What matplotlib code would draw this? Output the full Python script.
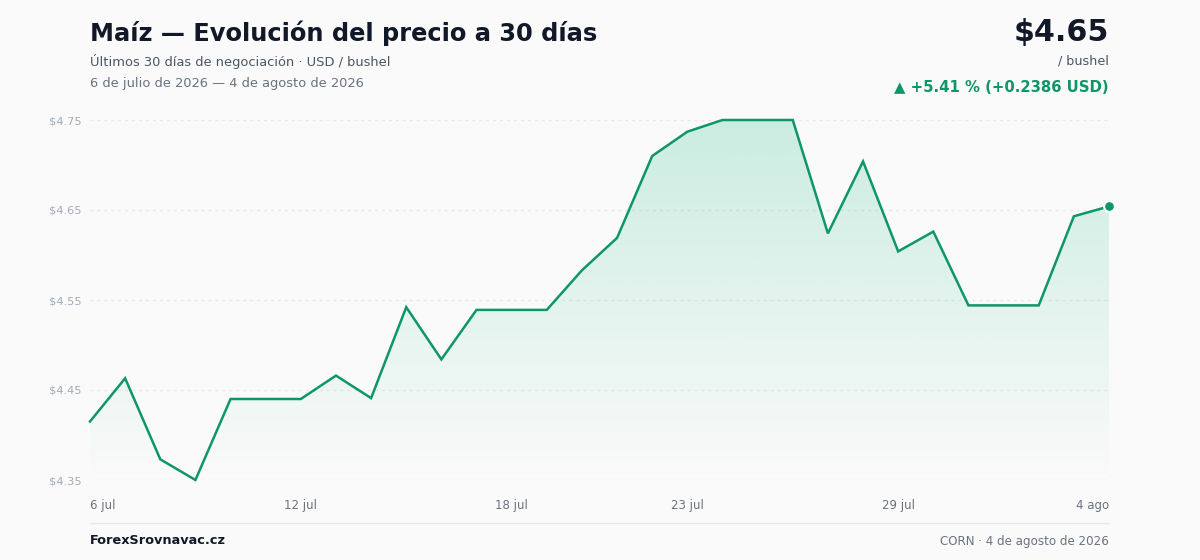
import numpy as np
import pandas as pd
import matplotlib
matplotlib.use('Agg')
import matplotlib.pyplot as plt
from matplotlib.patches import Polygon

plt.rcParams['font.family'] = ['DejaVu Sans']

# ─── Data ──
dates = pd.date_range('2026-07-06', '2026-08-04', freq='D')
prices = [4.415, 4.463, 4.373, 4.350, 4.440, 4.440, 4.440, 4.466, 4.441, 4.542,
          4.484, 4.539, 4.539, 4.539, 4.583, 4.619, 4.710, 4.737, 4.750, 4.750,
          4.750, 4.624, 4.704, 4.604, 4.626, 4.544, 4.544, 4.544, 4.643, 4.654]
y_ticks = [4.35, 4.45, 4.55, 4.65, 4.75]
x_tick_idx = [0, 6, 12, 17, 23, 29]
x_tick_labels = ['6 jul', '12 jul', '18 jul', '23 jul', '29 jul', '4 ago']

GREEN = '#0f9668'
BG = '#fafafa'

x = np.arange(len(dates))
y = np.array(prices)

fig = plt.figure(figsize=(12, 5.6), dpi=100, facecolor=BG)
ax = fig.add_axes([90 / 1200, 80 / 560, 1019 / 1200, 360 / 560])
ax.set_facecolor(BG)
ax.set_xlim(0, len(x) - 1)
ax.set_ylim(4.35, 4.75)

# gradient fill under the curve
ymin, ymax = ax.get_ylim()
grad = np.linspace(0.24, 0.0, 256).reshape(-1, 1)
rgba = np.zeros((256, 1, 4))
rgba[..., :3] = matplotlib.colors.to_rgb('#34c38f')
rgba[..., 3] = grad
im = ax.imshow(rgba, extent=[0, len(x) - 1, ymin, ymax], aspect='auto',
               origin='upper', zorder=1, interpolation='bilinear')
verts = np.vstack([[0, ymin], np.column_stack([x, y]), [len(x) - 1, ymin]])
poly = Polygon(verts, closed=True, facecolor='none', edgecolor='none')
ax.add_patch(poly)
im.set_clip_path(poly)

for t in y_ticks:
    ax.axhline(t, color='#e6e8ec', lw=1, ls=(0, (2, 3)), zorder=0.5)

ax.plot(x, y, color=GREEN, lw=1.8, zorder=3, clip_on=False, solid_joinstyle='miter')
ax.scatter([x[-1]], [y[-1]], s=60, color=GREEN, edgecolor='white', linewidth=1.5,
           zorder=4, clip_on=False)

for s in ax.spines.values():
    s.set_visible(False)
ax.set_yticks(y_ticks)
ax.set_yticklabels([f'${t:.2f}' for t in y_ticks], fontsize=8.2, color='#a3abb9')
ax.tick_params(axis='y', length=0, pad=6)
ax.set_xticks(x_tick_idx)
ax.set_xticklabels(x_tick_labels, fontsize=8.5, color='#6b7280')
ax.tick_params(axis='x', length=0, pad=14)
lbls = ax.get_xticklabels()
lbls[0].set_ha('left')
lbls[-1].set_ha('right')

# ─── Header ──
fig.text(90 / 1200, 1 - 33 / 560, 'Maíz — Evolución del precio a 30 días',
         fontsize=17.4, fontweight='bold', color='#111827', va='center', ha='left')
fig.text(90 / 1200, 1 - 61 / 560, 'Últimos 30 días de negociación · USD / bushel',
         fontsize=9.35, color='#4b5563', va='center', ha='left')
fig.text(90 / 1200, 1 - 83 / 560, '6 de julio de 2026 — 4 de agosto de 2026',
         fontsize=9.35, color='#6b7280', va='center', ha='left')

fig.text(1109 / 1200, 1 - 32 / 560, '$4.65', fontsize=21.7, fontweight='bold',
         color='#111827', va='center', ha='right')
fig.text(1109 / 1200, 1 - 61 / 560, '/ bushel', fontsize=9.2, color='#4b5563',
         va='center', ha='right')
fig.text(1109 / 1200, 1 - 87 / 560, '▲ +5.41 % (+0.2386 USD)', fontsize=10.75,
         fontweight='bold', color=GREEN, va='center', ha='right')

# ─── Footer ──
fig.add_artist(plt.Line2D([90 / 1200, 1109 / 1200], [1 - 523 / 560] * 2,
                          color='#e5e7eb', lw=1))
fig.text(90 / 1200, 1 - 541 / 560, 'ForexSrovnavac.cz', fontsize=9.3,
         fontweight='bold', color='#111827', va='center', ha='left')
fig.text(1109 / 1200, 1 - 541 / 560, 'CORN · 4 de agosto de 2026', fontsize=8.55,
         color='#6b7280', va='center', ha='right')

fig.savefig('out.png', dpi=100, facecolor=BG)
